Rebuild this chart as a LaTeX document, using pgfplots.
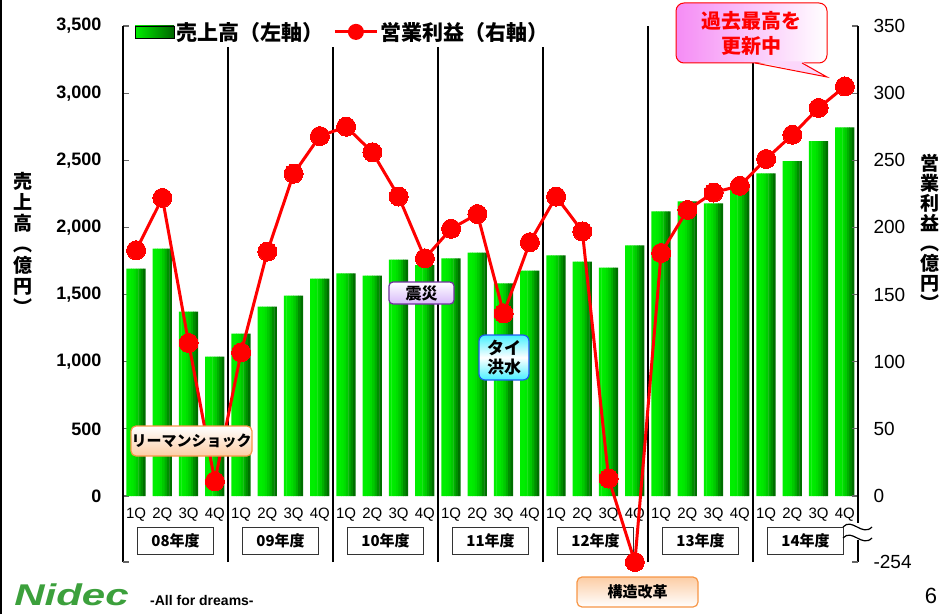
\documentclass[border=0pt]{standalone}
\usepackage{pgfplots}
\pgfplotsset{compat=1.18}
\usepackage{pgfplotstable}
\usepackage{fontspec}
\setmainfont{Liberation Sans}
\newfontfamily\jp{Noto Sans CJK JP}
\definecolor{gl}{RGB}{0,238,0}
\definecolor{gm}{RGB}{0,205,0}
\definecolor{gd}{RGB}{0,100,0}
\definecolor{lred}{RGB}{255,0,0}
\definecolor{orbd}{RGB}{247,150,70}
\definecolor{peach}{RGB}{252,205,165}
\definecolor{purp}{RGB}{112,48,160}
\definecolor{lav}{RGB}{215,185,250}
\definecolor{cybd}{RGB}{30,90,240}
\definecolor{cyf}{RGB}{70,240,255}
\definecolor{pinkf}{RGB}{245,140,245}
\definecolor{nidec}{RGB}{60,160,60}
\newcommand\fs[1]{\fontsize{#1}{#1}\selectfont}

% quarterly sales (left axis, 100M yen) and operating income (right axis)
\pgfplotstableread{
x sales profit
0  1694 183
1  1843 222
2  1373 114
3  1037 11
4  1209 107
5  1410 182
6  1492 240
7  1619 268
8  1657 275
9  1642 256
10 1761 223
11 1720 177
12 1769 199
13 1813 210
14 1584 136
15 1679 189
16 1791 223
17 1746 197
18 1701 13
19 1866 -254
20 2119 181
21 2194 213
22 2179 226
23 2300 231
24 2403 251
25 2493 269
26 2642 289
27 2746 305
}\data

\begin{document}
\begin{tikzpicture}
\useasboundingbox (0,0) rectangle (939pt,614pt);
\draw[line width=1.5pt] (0.75pt,0) -- (0.75pt,614pt);

\begin{axis}[
  at={(123pt,52pt)}, anchor=south west,
  scale only axis, width=735pt, height=536pt,
  xmin=-0.5, xmax=27.5, ymin=-491.5, ymax=3500,
  axis y line*=left, axis x line*=bottom,
  axis line style={line width=1.6pt},
  x axis line style={draw=none},
  tick align=inside, major tick length=6pt,
  tick style={line width=1.2pt, black!60},
  ytick={0,500,...,3500},
  extra y ticks={-491.5}, extra y tick labels={},
  yticklabel style={font=\fs{18}\bfseries, xshift=-18pt},
  /pgf/number format/assume math mode=true,
  /pgf/number format/1000 sep={,},
  xtick={0,...,27},
  xticklabels={1Q,2Q,3Q,4Q,1Q,2Q,3Q,4Q,1Q,2Q,3Q,4Q,1Q,2Q,3Q,4Q,1Q,2Q,3Q,4Q,1Q,2Q,3Q,4Q,1Q,2Q,3Q,4Q},
  xtick style={draw=none},
  xticklabel style={font=\fs{15}, anchor=center, yshift=47pt},
  strip/.style={ybar, bar width=2.7pt, draw=none, fill=#1},
]
% each 19pt bar is drawn as 8 vertical strips, bright green to dark green
\addplot[strip=gl,          bar shift=-8.31pt] table[x=x,y=sales]{\data};
\addplot[strip=gl,          bar shift=-5.94pt] table[x=x,y=sales]{\data};
\addplot[strip=gl!96!gd,    bar shift=-3.56pt] table[x=x,y=sales]{\data};
\addplot[strip=gl!88!gd,    bar shift=-1.19pt] table[x=x,y=sales]{\data};
\addplot[strip=gl!74!gd,    bar shift=1.19pt]  table[x=x,y=sales]{\data};
\addplot[strip=gl!54!gd,    bar shift=3.56pt]  table[x=x,y=sales]{\data};
\addplot[strip=gl!30!gd,    bar shift=5.94pt]  table[x=x,y=sales]{\data};
\addplot[strip=gl!8!gd,     bar shift=8.19pt, bar width=2.6pt] table[x=x,y=sales]{\data};
\pgfplotsinvokeforeach{3.5,7.5,11.5,15.5,19.5,23.5}{
  \draw[line width=1.6pt] (axis cs:#1,-491.5) -- (axis cs:#1,3500);
}
\tikzset{yr/.style={draw=black!80, line width=1.2pt, fill=white, minimum width=76pt,
  minimum height=27pt, font=\jp\bfseries\fs{15}, inner sep=0pt}}
\node[yr] at (axis cs:1.5,-335)  {08年度};
\node[yr] at (axis cs:5.5,-335)  {09年度};
\node[yr] at (axis cs:9.5,-335)  {10年度};
\node[yr] at (axis cs:13.5,-335) {11年度};
\node[yr] at (axis cs:17.5,-335) {12年度};
\node[yr] at (axis cs:21.5,-335) {13年度};
\node[yr] at (axis cs:25.5,-335) {14年度};
\end{axis}

\begin{axis}[
  at={(123pt,52pt)}, anchor=south west,
  scale only axis, width=735pt, height=536pt,
  xmin=-0.5, xmax=27.5, ymin=-49.15, ymax=350,
  axis y line*=right, axis x line=none,
  axis line style={line width=1.6pt},
  tick align=inside, major tick length=6pt,
  tick style={line width=1.2pt, black!60},
  ytick={0,50,...,350},
  extra y ticks={-49.15}, extra y tick labels={-254},
  yticklabel style={font=\fs{19}, xshift=12pt},
  /pgf/number format/assume math mode=true,
  clip=false,
  legend style={at={(0.012,0.989)}, anchor=west, draw=none, fill=white,
    legend columns=2, font=\jp\bfseries\fs{21}, inner xsep=3pt, inner ysep=3pt,
    /tikz/every even column/.append style={column sep=8pt}},
  legend cell align=left,
]
\addlegendimage{legend image code/.code={\shade[left color=gl,middle color=gm,right color=gd] (0pt,-6pt) rectangle (39pt,6pt);}}
\addlegendentry{売上高（左軸）}
\addplot[lred, line width=3pt, mark=*, mark size=9.5pt,
  mark options={solid, fill=lred, draw=lred, line width=0pt},
  y filter/.expression={y<0 ? -49.15 : y},
  legend image code/.code={\draw[lred,line width=3pt] (0pt,0pt) -- (42pt,0pt); \fill[lred] (21pt,0pt) circle (6.5pt);}]
  table[x=x,y=profit]{\data};
\addlegendentry{営業利益（右軸）}
\end{axis}

% axis break on the right axis
\fill[white] (850pt,74pt) rectangle (868pt,91pt);
\draw[line width=1.2pt] (843pt,87pt) .. controls (852pt,97pt) and (862pt,77pt) .. (872pt,87pt);
\draw[line width=1.2pt] (843pt,76pt) .. controls (852pt,86pt) and (862pt,66pt) .. (872pt,76pt);

% callouts
\node[rounded corners=5pt, draw=orbd, line width=1.2pt, top color=white, bottom color=peach,
  minimum width=121pt, minimum height=30pt, font=\jp\bfseries\fs{15}, inner sep=0pt]
  at (191.5pt,173pt) {リーマンショック};
\node[rounded corners=4pt, draw=purp, line width=1.2pt, top color=white, bottom color=lav,
  minimum width=65pt, minimum height=22pt, font=\jp\bfseries\fs{16}, inner sep=0pt]
  at (421.5pt,321pt) {震災};
\node[rounded corners=6pt, draw=cybd, line width=1.2pt, top color=cyf, bottom color=cyf, middle color=white,
  minimum width=50pt, minimum height=45pt, font=\jp\bfseries\fontsize{17}{19}\selectfont,
  align=center, inner sep=0pt]
  at (504pt,256.5pt) {タイ\\洪水};
\node[rounded corners=5pt, draw=orbd, line width=1.2pt, top color=peach, bottom color=white,
  minimum width=121pt, minimum height=30pt, font=\jp\bfseries\fs{15}, inner sep=0pt]
  at (637.5pt,22pt) {構造改革};

\node[rounded corners=8pt, draw=lred, line width=1pt, left color=pinkf, right color=white,
  minimum width=151pt, minimum height=60pt, inner sep=0pt] at (751.5pt,581pt) {};
\fill[pinkf!35!white] (755pt,552.5pt) -- (827pt,537pt) -- (802pt,552.5pt) -- cycle;
\draw[lred, line width=1pt] (755pt,551pt) -- (827pt,537pt) -- (802pt,551pt);
\node[font=\jp\bfseries\fontsize{20}{25}\selectfont, text=lred, align=center]
  at (751.5pt,581pt) {過去最高を\\更新中};

% axis titles
\node[font=\jp\bfseries\fontsize{19}{21}\selectfont, align=center, inner sep=0pt]
  at (23pt,371pt) {売\\上\\高\\︵\\億\\円\\︶};
\node[font=\jp\bfseries\fontsize{19}{20}\selectfont, align=center, inner sep=0pt]
  at (930pt,382pt) {営\\業\\利\\益\\︵\\億\\円\\︶};

% footer
\node[anchor=base west, font=\bfseries\itshape\fs{30}, text=nidec, xscale=1.4, inner sep=0pt]
  at (14pt,9pt) {Nidec};
\node[anchor=base west, font=\bfseries\fs{14}, inner sep=0pt] at (150pt,9pt) {-All for dreams-};
\node[font=\fs{22}] at (931pt,18pt) {6};
\end{tikzpicture}
\end{document}
